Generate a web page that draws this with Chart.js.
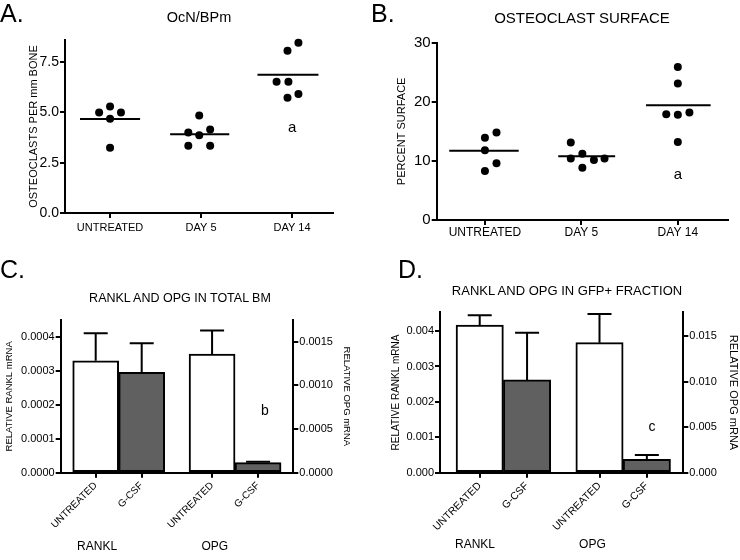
<!DOCTYPE html>
<html>
<head>
<meta charset="utf-8">
<script src="https://cdn.jsdelivr.net/npm/chart.js@4.4.0/dist/chart.umd.min.js"></script>
<style>
  body { margin: 0; background: #fff; font-family: "Liberation Sans", Arial, sans-serif; color: #000; }
  #wrap { position: relative; width: 740px; height: 560px; overflow: hidden; }
  canvas { position: absolute; }
  .letter { position: absolute; font-size: 25px; line-height: 1; }
  .ttl { position: absolute; line-height: 1; white-space: nowrap; transform: translate(-50%, -50%); }
</style>
</head>
<body>
<div id="wrap">
  <canvas id="chartA" width="370" height="280" style="left:0;top:0"></canvas>
  <canvas id="chartB" width="370" height="280" style="left:370px;top:0"></canvas>
  <canvas id="chartC" width="370" height="280" style="left:0;top:280px"></canvas>
  <canvas id="chartD" width="370" height="280" style="left:370px;top:280px"></canvas>

  <div class="letter" style="left:0;top:1px">A.</div>
  <div class="letter" style="left:371px;top:1px">B.</div>
  <div class="letter" style="left:0;top:257px">C.</div>
  <div class="letter" style="left:398px;top:257px">D.</div>

  <div class="ttl" style="left:199px;top:17px;font-size:14.5px">OcN/BPm</div>
  <div class="ttl" style="left:582px;top:17px;font-size:15px">OSTEOCLAST SURFACE</div>
  <div class="ttl" style="left:180px;top:298px;font-size:12.5px">RANKL AND OPG IN TOTAL BM</div>
  <div class="ttl" style="left:567px;top:290px;font-size:13px">RANKL AND OPG IN GFP+ FRACTION</div>
</div>
<script>
// ---- data ----
const groupsAB = ['UNTREATED', 'DAY 5', 'DAY 14'];
const groupPosAB = [1, 2, 3];

// A: osteoclasts per mm bone
const ocnUntreated = [5.0, 5.3, 5.0, 4.68, 3.24];
const ocnUntreatedX = [0.88, 1.0, 1.12, 1.0, 1.0];
const ocnDay5 = [4.85, 4.0, 4.15, 3.87, 3.34, 3.34];
const ocnDay5X = [1.98, 1.86, 2.10, 1.98, 1.86, 2.10];
const ocnDay14 = [8.46, 8.06, 6.52, 6.52, 5.73, 5.91];
const ocnDay14X = [3.07, 2.95, 2.83, 2.96, 2.95, 3.07];
const ocnMeans = [4.67, 3.92, 6.87];
const ocnMeanSpan = [[0.67, 1.33], [1.66, 2.31], [2.62, 3.29]];
const ocnTicks = [0, 2.5, 5, 7.5];

// B: percent osteoclast surface
const ocsUntreated = [14.8, 13.9, 11.8, 9.6, 8.3];
const ocsUntreatedX = [1.12, 1.0, 1.0, 1.12, 1.0];
const ocsDay5 = [13.1, 11.2, 10.4, 10.15, 10.4, 8.85];
const ocsDay5X = [1.89, 2.01, 1.89, 2.13, 2.24, 2.01];
const ocsDay14 = [25.9, 23.1, 17.9, 17.8, 18.2, 13.2];
const ocsDay14X = [3.0, 3.0, 2.88, 3.0, 3.12, 3.0];
const ocsMeans = [11.7, 10.8, 19.4];
const ocsMeanSpan = [[0.63, 1.35], [1.76, 2.35], [2.67, 3.34]];
const ocsTicks = [0, 10, 20, 30];

// C / D: bars
const barLabels = ['UNTREATED', 'G-CSF', 'UNTREATED', 'G-CSF'];
const barPos = [1, 2, 3.53, 4.53];
const geneLabels = ['RANKL', 'OPG'];
const barColors = ['#ffffff', '#606060'];

const totRankl = [0.000329, 0.000295];
const totRanklErr = [0.00041, 0.000381];
const totOpg = [0.00136, 0.000115];
const totOpgErr = [0.00163, 0.000126];
const totRanklTicks = [0, 0.0001, 0.0002, 0.0003, 0.0004];
const totOpgTicks = [0, 0.0005, 0.001, 0.0015];
const totGenePos = [1.03, 3.59];

const gfpRankl = [0.00417, 0.00262];
const gfpRanklErr = [0.00445, 0.00395];
const gfpOpg = [0.01429, 0.00147];
const gfpOpgErr = [0.01744, 0.00195];
const gfpRanklTicks = [0, 0.001, 0.002, 0.003, 0.004];
const gfpOpgTicks = [0, 0.005, 0.01, 0.015];
const gfpGenePos = [0.9, 3.38];

// ---- helpers ----
Chart.defaults.font.family = '"Liberation Sans", Arial, sans-serif';
Chart.defaults.color = '#000';

const tickGrid = { drawOnChartArea: false, drawTicks: true, tickLength: 5, color: '#000', lineWidth: 2, offset: false };
const axisBorder = { color: '#000', width: 2 };

const pts = (xs, ys) => ys.map((y, i) => ({ x: xs[i], y }));
const meanLines = (means, spans) => means.flatMap((m, i) =>
  [{ x: spans[i][0], y: m }, { x: spans[i][1], y: m }, { x: spans[i][1], y: null }]);

function yAxis(o) {
  return {
    type: 'linear', position: o.pos || 'left', min: 0, max: o.max,
    afterBuildTicks: s => { s.ticks = o.ticks.map(v => ({ value: v })); },
    afterFit: s => { s.width = o.width; },
    ticks: { font: { size: o.font }, padding: 1, callback: v => v.toFixed(o.dec) },
    grid: tickGrid, border: axisBorder,
    title: { display: true, text: o.title, font: { size: o.tfont }, padding: { top: o.tpad, bottom: 0 } }
  };
}

// fixed height, and no extra side padding for (rotated) labels
function fitX(h) {
  return s => { s.height = h; s.paddingLeft = 0; s.paddingRight = 0; };
}

function xAxis(o) {
  return {
    type: 'linear', position: 'bottom', min: o.min, max: o.max, offset: false,
    afterBuildTicks: s => { s.ticks = o.pos.map(v => ({ value: v })); },
    afterFit: fitX(o.height),
    ticks: {
      font: { size: o.font }, padding: o.pad, autoSkip: false,
      minRotation: o.rot || 0, maxRotation: o.rot || 0,
      callback: (v, i) => o.labels[i]
    },
    grid: tickGrid, border: axisBorder
  };
}

function groupAxis(o) {
  return {
    type: 'linear', position: 'bottom', weight: 1, min: o.min, max: o.max, offset: false,
    afterBuildTicks: s => { s.ticks = o.pos.map(v => ({ value: v })); },
    afterFit: fitX(o.height),
    ticks: { font: { size: 12 }, padding: o.pad, autoSkip: false, maxRotation: 0, callback: (v, i) => o.labels[i] },
    grid: { display: false, drawTicks: false, offset: false },
    border: { display: false }
  };
}

// error bars and letters drawn with the chart's own scales
function extras(errs, notes) {
  return {
    id: 'extras',
    afterDatasetsDraw(chart) {
      const ctx = chart.ctx;
      ctx.save();
      ctx.strokeStyle = '#000';
      ctx.lineWidth = 2;
      errs.forEach((e, di) => {
        const meta = chart.getDatasetMeta(di);
        const ys = chart.scales[meta.yAxisID];
        meta.data.forEach((bar, j) => {
          const top = ys.getPixelForValue(e[j]);
          ctx.beginPath();
          ctx.moveTo(bar.x, bar.y);
          ctx.lineTo(bar.x, top);
          ctx.moveTo(bar.x - 12, top);
          ctx.lineTo(bar.x + 12, top);
          ctx.stroke();
        });
      });
      ctx.fillStyle = '#000';
      ctx.textAlign = 'center';
      ctx.textBaseline = 'middle';
      notes.forEach(n => {
        ctx.font = n.size + 'px "Liberation Sans", Arial, sans-serif';
        ctx.fillText(n.text, chart.scales.x.getPixelForValue(n.x), chart.scales[n.axis].getPixelForValue(n.y));
      });
      ctx.restore();
    }
  };
}

const baseOpts = {
  responsive: false, animation: false, devicePixelRatio: 1,
  plugins: { legend: { display: false }, tooltip: { enabled: false } }
};

function dotChart(id, sets, means, spans, y, x, pad, notes) {
  new Chart(document.getElementById(id), {
    type: 'scatter',
    data: {
      datasets: [
        ...sets.map(s => ({ data: pts(s[0], s[1]), pointRadius: 4, backgroundColor: '#000',
          borderColor: '#000', borderWidth: 0, clip: false })),
        { type: 'line', data: meanLines(means, spans), showLine: true, spanGaps: false,
          pointRadius: 0, borderColor: '#000', borderWidth: 2, clip: false }
      ]
    },
    options: { ...baseOpts, layout: { padding: pad, autoPadding: false }, scales: { x: xAxis(x), y: yAxis(y) } },
    plugins: [extras([], notes)]
  });
}

function barChart(id, rankl, opg, errs, yl, yr, x, grp, pad, notes) {
  const barStyle = { backgroundColor: barColors, borderColor: '#000', borderWidth: 2, borderSkipped: false,
    grouped: false, barPercentage: 1, categoryPercentage: 1 };
  new Chart(document.getElementById(id), {
    type: 'bar',
    data: {
      datasets: [
        { data: pts(barPos.slice(0, 2), rankl), yAxisID: 'y', ...barStyle },
        { data: pts(barPos.slice(2), opg), yAxisID: 'y1', ...barStyle }
      ]
    },
    options: {
      ...baseOpts,
      layout: { padding: pad, autoPadding: false },
      scales: { x: xAxis(x), x2: groupAxis(grp), y: yAxis(yl), y1: yAxis(yr) }
    },
    plugins: [extras(errs, notes)]
  });
}

// A
dotChart('chartA',
  [[ocnUntreatedX, ocnUntreated], [ocnDay5X, ocnDay5], [ocnDay14X, ocnDay14]],
  ocnMeans, ocnMeanSpan,
  { max: 8.6, ticks: ocnTicks, dec: 1, width: 65, font: 14, title: 'OSTEOCLASTS PER mm BONE', tfont: 11, tpad: 27 },
  { min: 0.505, max: 3.45, pos: groupPosAB, labels: groupsAB, font: 11, pad: 3, height: 67 },
  { top: 40, right: 37, left: 0, bottom: 0 },
  [{ x: 3, y: 4.24, axis: 'y', text: 'a', size: 15 }]);

// B
dotChart('chartB',
  [[ocsUntreatedX, ocsUntreated], [ocsDay5X, ocsDay5], [ocsDay14X, ocsDay14]],
  ocsMeans, ocsMeanSpan,
  { max: 30, ticks: ocsTicks, dec: 0, width: 66.7, font: 15, title: 'PERCENT SURFACE', tfont: 11, tpad: 25.4 },
  { min: 0.5, max: 3.52, pos: groupPosAB, labels: groupsAB, font: 12, pad: 0, height: 60 },
  { top: 42.7, right: 12, left: 0, bottom: 0 },
  [{ x: 3, y: 7.6, axis: 'y', text: 'a', size: 15 }]);

// C
barChart('chartC', totRankl, totOpg, [totRanklErr, totOpgErr],
  { max: 0.000449, ticks: totRanklTicks, dec: 4, width: 60.7, font: 11, title: 'RELATIVE RANKL mRNA', tfont: 9.5, tpad: 4 },
  { pos: 'right', max: 0.00175, ticks: totOpgTicks, dec: 4, width: 76.7, font: 11, title: 'RELATIVE OPG mRNA', tfont: 9.5, tpad: 17.6 },
  { min: 0.239, max: 5.296, pos: barPos, labels: barLabels, font: 10, pad: 2, height: 60, rot: 45 },
  { min: 0.239, max: 5.296, pos: totGenePos, labels: geneLabels, pad: 7, height: 27.3 },
  { top: 40, right: 0, left: 0, bottom: 0 },
  [{ x: 4.68, y: 0.0007, axis: 'y1', text: 'b', size: 14 }]);

// D
barChart('chartD', gfpRankl, gfpOpg, [gfpRanklErr, gfpOpgErr],
  { max: 0.00453, ticks: gfpRanklTicks, dec: 3, width: 70, font: 11, title: 'RELATIVE RANKL mRNA', tfont: 10, tpad: 20.7 },
  { pos: 'right', max: 0.01763, ticks: gfpOpgTicks, dec: 3, width: 56.7, font: 11, title: 'RELATIVE OPG mRNA', tfont: 11, tpad: 0 },
  { min: 0.161, max: 5.30, pos: barPos, labels: barLabels, font: 10.5, pad: 2, height: 60, rot: 45 },
  { min: 0.161, max: 5.30, pos: gfpGenePos, labels: geneLabels, pad: 5, height: 27.3 },
  { top: 32.3, right: 0, left: 0, bottom: 0 },
  [{ x: 4.64, y: 0.00505, axis: 'y1', text: 'c', size: 14 }]);
</script>
</body>
</html>
